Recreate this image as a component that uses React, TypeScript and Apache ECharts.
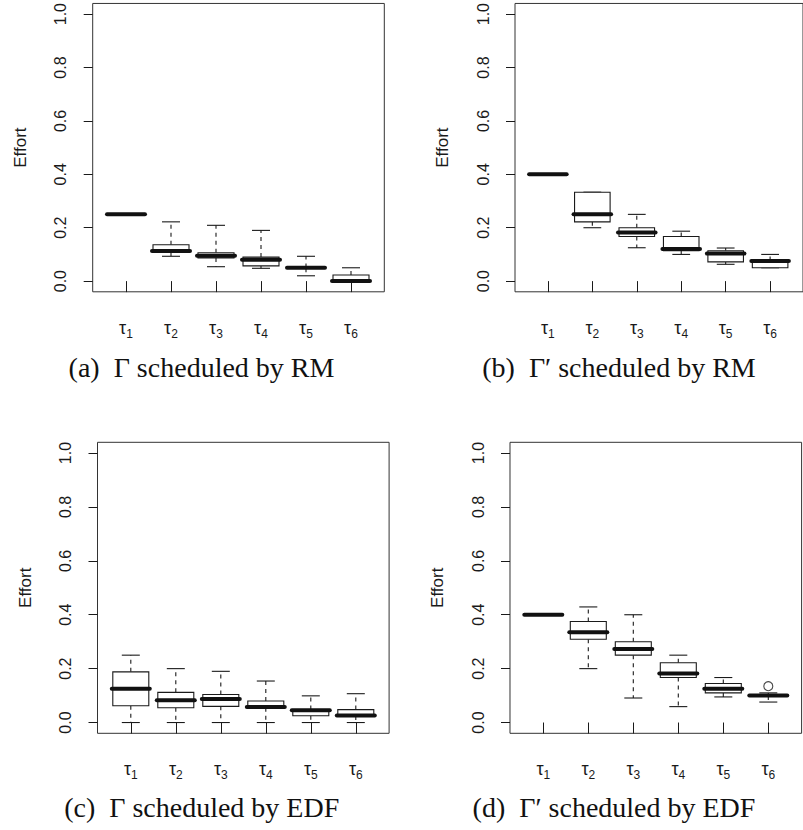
import React, { useEffect, useRef } from "react";
import * as echarts from "echarts";

// Task labels (subscript indices) and y ticks
const taskIndex = ["1", "2", "3", "4", "5", "6"];
const yTicks = [0, 0.2, 0.4, 0.6, 0.8, 1.0];

// Five-number summaries per task: [min, Q1, median, Q3, max]
const rmGamma = [
  [0.25, 0.25, 0.25, 0.25, 0.25],
  [0.093, 0.109, 0.113, 0.136, 0.222],
  [0.054, 0.087, 0.095, 0.106, 0.209],
  [0.048, 0.057, 0.08, 0.09, 0.19],
  [0.02, 0.048, 0.05, 0.051, 0.093],
  [0.0, 0.0, 0.0, 0.023, 0.05],
];
const rmGammaPrime = [
  [0.4, 0.4, 0.4, 0.4, 0.4],
  [0.2, 0.222, 0.25, 0.333, 0.333],
  [0.125, 0.167, 0.182, 0.2, 0.25],
  [0.1, 0.114, 0.12, 0.167, 0.187],
  [0.063, 0.072, 0.103, 0.114, 0.124],
  [0.05, 0.05, 0.075, 0.077, 0.1],
];
const edfGamma = [
  [0.0, 0.062, 0.125, 0.188, 0.25],
  [0.0, 0.055, 0.083, 0.112, 0.2],
  [0.0, 0.06, 0.087, 0.104, 0.19],
  [0.0, 0.055, 0.058, 0.08, 0.154],
  [0.0, 0.025, 0.046, 0.048, 0.099],
  [0.0, 0.024, 0.026, 0.048, 0.107],
];
const edfGammaPrime = [
  [0.4, 0.4, 0.4, 0.4, 0.4],
  [0.2, 0.309, 0.335, 0.375, 0.429],
  [0.091, 0.25, 0.273, 0.3, 0.4],
  [0.059, 0.167, 0.182, 0.222, 0.25],
  [0.095, 0.11, 0.125, 0.145, 0.167],
  [0.076, 0.098, 0.1, 0.103, 0.11],
];
// Outliers: [task number, value]
const edfGammaPrimeOutliers = [[6, 0.135]];

const captions = [
  "(a)\u2002Γ scheduled by RM",
  "(b)\u2002Γ′ scheduled by RM",
  "(c)\u2002Γ scheduled by EDF",
  "(d)\u2002Γ′ scheduled by EDF",
];

const INK = "#1a1a1a";
const SANS = "'Liberation Sans', Arial, Helvetica, sans-serif";
const SERIF = "'Liberation Serif', 'Times New Roman', serif";

const panels = [
  { stats: rmGamma, outliers: [] as number[][], grid: { left: 92.7, top: 0.5, width: 291.6, height: 291.3 }, cap: { x: 201.5, y: 367 } },
  { stats: rmGammaPrime, outliers: [] as number[][], grid: { left: 515, top: 0.5, width: 291.6, height: 291.3 }, cap: { x: 619, y: 367 } },
  { stats: edfGamma, outliers: [] as number[][], grid: { left: 97.5, top: 442.3, width: 291.6, height: 291 }, cap: { x: 201.7, y: 807 } },
  { stats: edfGammaPrime, outliers: edfGammaPrimeOutliers, grid: { left: 510, top: 442.3, width: 291.6, height: 291 }, cap: { x: 614, y: 807 } },
];

function renderBox(params: any, api: any) {
  const x = api.value(0);
  const mn = api.value(1), q1 = api.value(2), md = api.value(3), q3 = api.value(4), mx = api.value(5);
  const pMin = api.coord([x, mn]);
  const pQ1 = api.coord([x, q1]);
  const pMd = api.coord([x, md]);
  const pQ3 = api.coord([x, q3]);
  const pMax = api.coord([x, mx]);
  const cx = pMd[0];
  const bw = api.size([0.8, 0])[0];
  const sw = bw / 2;
  const thin = { stroke: INK, lineWidth: 1.1, fill: null };
  const dashed = { stroke: INK, lineWidth: 1.1, lineDash: [4, 4] };
  return {
    type: "group",
    children: [
      { type: "line", shape: { x1: cx, y1: pQ3[1], x2: cx, y2: pMax[1] }, style: dashed },
      { type: "line", shape: { x1: cx, y1: pQ1[1], x2: cx, y2: pMin[1] }, style: dashed },
      { type: "line", shape: { x1: cx - sw / 2, y1: pMax[1], x2: cx + sw / 2, y2: pMax[1] }, style: thin },
      { type: "line", shape: { x1: cx - sw / 2, y1: pMin[1], x2: cx + sw / 2, y2: pMin[1] }, style: thin },
      { type: "rect", shape: { x: cx - bw / 2, y: pQ3[1], width: bw, height: pQ1[1] - pQ3[1] }, style: { stroke: INK, lineWidth: 1.1, fill: "#ffffff" } },
      { type: "line", shape: { x1: cx - bw / 2 - 1, y1: pMd[1], x2: cx + bw / 2 + 1, y2: pMd[1] }, style: { stroke: "#111", lineWidth: 4, lineCap: "round" } },
    ],
  };
}

export default function App() {
  const ref = useRef<HTMLDivElement>(null);
  useEffect(() => {
    if (!ref.current) return;
    const chart = echarts.init(ref.current, undefined, { renderer: "svg" });
    const grid: any[] = [];
    const xAxis: any[] = [];
    const yAxis: any[] = [];
    const series: any[] = [];
    const graphic: any[] = [];
    panels.forEach((p, i) => {
      grid.push({ ...p.grid, show: true, borderColor: "#333", borderWidth: 1, backgroundColor: "transparent", containLabel: false });
      xAxis.push({
        gridIndex: i,
        type: "value",
        min: 0.26,
        max: 6.74,
        axisLine: { show: false },
        splitLine: { show: false },
        axisTick: { show: true, length: 11, customValues: [1, 2, 3, 4, 5, 6], lineStyle: { color: INK, width: 1 } },
        axisLabel: {
          customValues: [1, 2, 3, 4, 5, 6],
          margin: 25,
          formatter: (v: number) => `{t|τ}{s|${taskIndex[Math.round(v) - 1]}}`,
          rich: {
            t: { fontSize: 18, fontFamily: SANS, color: INK, lineHeight: 20, verticalAlign: "bottom" },
            s: { fontSize: 12, fontFamily: SANS, color: INK, lineHeight: 14, verticalAlign: "bottom", padding: [0, 0, -3, 0] },
          },
        },
      });
      yAxis.push({
        gridIndex: i,
        type: "value",
        min: -0.04,
        max: 1.04,
        name: "Effort",
        nameLocation: "middle",
        nameRotate: 90,
        nameGap: 64,
        nameTextStyle: { fontSize: 17, fontFamily: SANS, color: INK },
        axisLine: { show: false },
        splitLine: { show: false },
        axisTick: { show: true, length: 9, customValues: yTicks, lineStyle: { color: INK, width: 1 } },
        axisLabel: {
          customValues: yTicks,
          rotate: 90,
          margin: 24,
          fontSize: 16,
          fontFamily: SANS,
          color: INK,
          formatter: (v: number) => v.toFixed(1),
        },
      });
      series.push({
        type: "custom",
        xAxisIndex: i,
        yAxisIndex: i,
        renderItem: renderBox,
        encode: { x: 0, y: [1, 2, 3, 4, 5] },
        data: p.stats.map((s, k) => [k + 1, ...s]),
        clip: false,
      });
      if (p.outliers.length) {
        series.push({
          type: "scatter",
          xAxisIndex: i,
          yAxisIndex: i,
          symbol: "circle",
          symbolSize: 9,
          itemStyle: { color: "#fff", borderColor: INK, borderWidth: 1.1 },
          data: p.outliers,
          z: 5,
        });
      }
      graphic.push({
        type: "text",
        x: p.cap.x,
        y: p.cap.y,
        style: { text: captions[i], fill: "#111", font: `28px ${SERIF}`, align: "center", verticalAlign: "middle" },
      });
    });
    chart.setOption({ animation: false, backgroundColor: "#fff", grid, xAxis, yAxis, series, graphic });
    return () => chart.dispose();
  }, []);
  return <div ref={ref} style={{ position: "absolute", left: 0, top: 0, width: 803, height: 830 }} />;
}
